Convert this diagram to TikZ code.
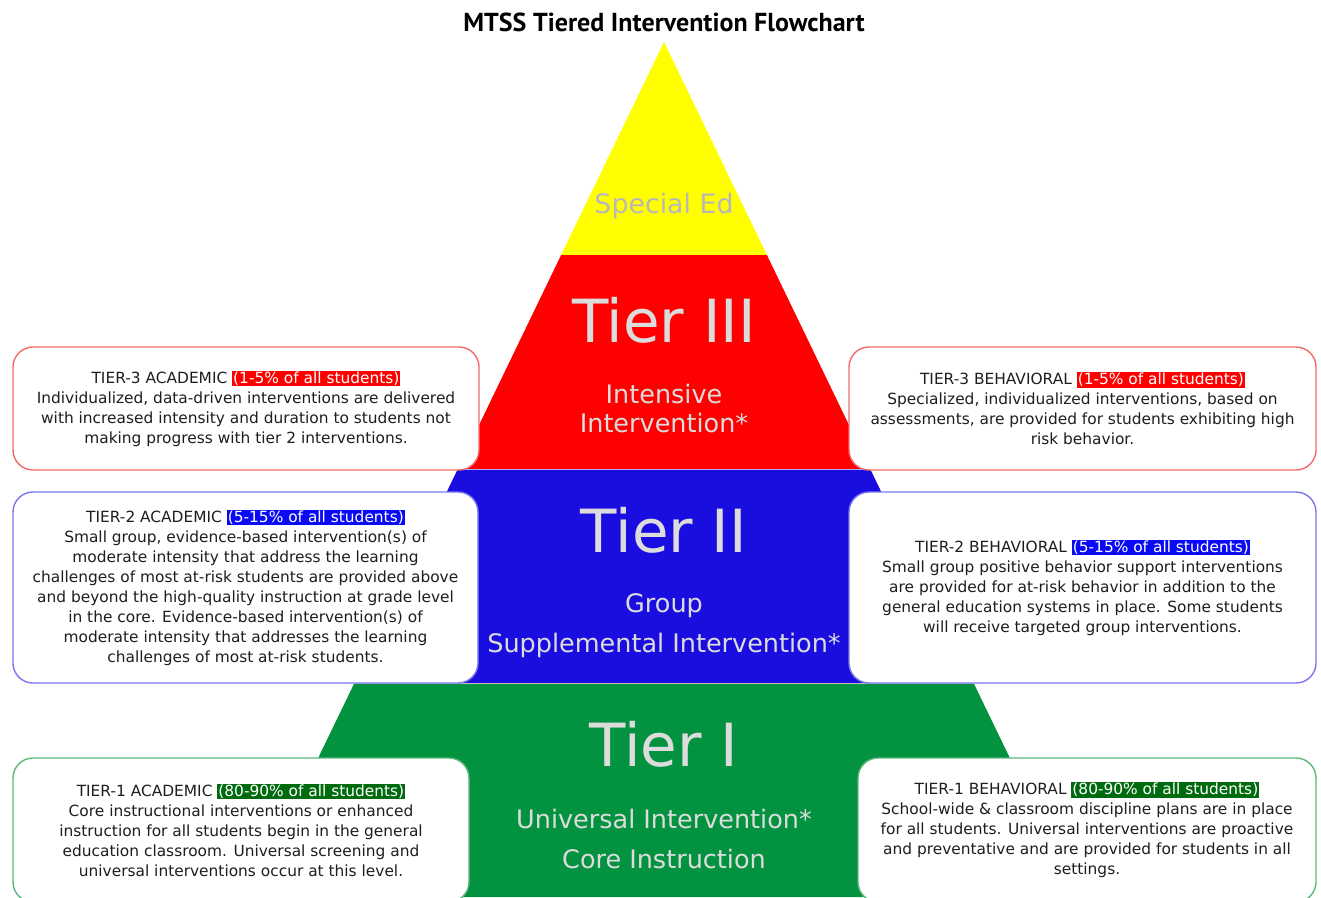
\documentclass[tikz,border=0pt]{standalone}
\usepackage{fontspec}
\setmainfont{DejaVu Sans}
\newfontfamily\titlefont{PT Sans}
\definecolor{ylw}{HTML}{FFFF00}
\definecolor{rd}{HTML}{FF0000}
\definecolor{bl}{HTML}{1A0DE0}
\definecolor{gr}{HTML}{03923F}
\definecolor{rdline}{HTML}{F26A6A}
\definecolor{blline}{HTML}{7A76EE}
\definecolor{grline}{HTML}{5DB87C}
\definecolor{hlred}{HTML}{FF0000}
\definecolor{hlblue}{HTML}{0A0AF5}
\definecolor{hlgreen}{HTML}{006A0E}
\definecolor{boxtxt}{HTML}{1E1E1E}
\definecolor{pyrtxt}{HTML}{DCDCDC}
\definecolor{spedtxt}{HTML}{B8B8B8}
\newcommand{\hlbox}[2]{{\setlength{\fboxsep}{1pt}\colorbox{#1}{\textcolor{white}{#2}}}}
\newcommand{\boxfont}{\fontsize{15.4}{20}\selectfont}
\begin{document}
\begin{tikzpicture}[x=1pt,y=-1pt,
  infobox/.style={draw, line width=1.4pt, rounded corners=20pt, fill=white, align=center,
     font=\boxfont, text=boxtxt, inner sep=0pt},
  pyrbig/.style={text=pyrtxt, anchor=base, inner sep=0pt, font=\fontsize{59.5}{59.5}\selectfont},
  pyrsmall/.style={text=pyrtxt, anchor=base, inner sep=0pt, font=\fontsize{25.5}{25.5}\selectfont},
  sepline/.style={line width=0.8pt}
]
\useasboundingbox (0,0) rectangle (1321,897);
\clip (0,0) rectangle (1321,897);

% title
\node[anchor=base, inner sep=0pt, font=\titlefont\fontsize{26}{26}\selectfont\bfseries, text=black] (title) at (664,31) {MTSS Tiered Intervention Flowchart};

% pyramid bands
\fill[ylw] (664,42) -- (766.9,255) -- (561.1,255) -- cycle;
\fill[rd] (561.1,255) -- (766.9,255) -- (870.2,469) -- (457.8,469) -- cycle;
\fill[bl] (457.8,469) -- (870.2,469) -- (973.6,683) -- (354.4,683) -- cycle;
\fill[gr] (354.4,683) -- (973.6,683) -- (1077,897) -- (251,897) -- cycle;
\draw[sepline, blline!60] (457.8,469.5) -- (870.2,469.5);
\draw[sepline, gray!50] (354.4,683.5) -- (973.6,683.5);

% pyramid texts
\node[anchor=base, inner sep=0pt, text=spedtxt, font=\fontsize{26.8}{26.8}\selectfont] (specialed) at (664,213) {Special Ed};
\node[pyrbig] (tier3) at (664,342) {Tier III};
\node[pyrsmall] (intensive) at (664,403) {Intensive};
\node[pyrsmall] (intensive2) at (664,432) {Intervention*};
\node[pyrbig] (tier2) at (664,552) {Tier II};
\node[pyrsmall] (group) at (664,612) {Group};
\node[pyrsmall] (suppl) at (664,652) {Supplemental Intervention*};
\node[pyrbig] (tier1) at (664,766) {Tier I};
\node[pyrsmall] (universal) at (664,828) {Universal Intervention*};
\node[pyrsmall] (core) at (664,868) {Core Instruction};

% boxes
\node[infobox, draw=rdline, minimum width=466pt, minimum height=123pt] (t3a) at (246,408.5)
 {TIER-3 ACADEMIC \hlbox{hlred}{(1-5\% of all students)}\\
  Individualized, data-driven interventions are delivered\\
  with increased intensity and duration to students not\\
  making progress with tier 2 interventions.};
\node[infobox, draw=rdline, minimum width=467pt, minimum height=123pt] (t3b) at (1082.5,408.5)
 {TIER-3 BEHAVIORAL \hlbox{hlred}{(1-5\% of all students)}\\
  Specialized, individualized interventions, based on\\
  assessments, are provided for students exhibiting high\\
  risk behavior.};
\node[infobox, draw=blline, minimum width=465pt, minimum height=191pt] (t2a) at (245.5,587.5)
 {TIER-2 ACADEMIC \hlbox{hlblue}{(5-15\% of all students)}\\
  Small group, evidence-based intervention(s) of\\
  moderate intensity that address the learning\\
  challenges of most at-risk students are provided above\\
  and beyond the high-quality instruction at grade level\\
  in the core. Evidence-based intervention(s) of\\
  moderate intensity that addresses the learning\\
  challenges of most at-risk students.};
\node[infobox, draw=blline, minimum width=467pt, minimum height=191pt] (t2b) at (1082.5,587.5)
 {TIER-2 BEHAVIORAL \hlbox{hlblue}{(5-15\% of all students)}\\
  Small group positive behavior support interventions\\
  are provided for at-risk behavior in addition to the\\
  general education systems in place. Some students\\
  will receive targeted group interventions.};
\node[infobox, draw=grline, minimum width=456pt, minimum height=144pt] (t1a) at (241,830)
 {TIER-1 ACADEMIC \hlbox{hlgreen}{(80-90\% of all students)}\\
  Core instructional interventions or enhanced\\
  instruction for all students begin in the general\\
  education classroom. Universal screening and\\
  universal interventions occur at this level.};
\node[infobox, draw=grline, minimum width=458pt, minimum height=144pt] (t1b) at (1087,830)
 {TIER-1 BEHAVIORAL \hlbox{hlgreen}{(80-90\% of all students)}\\
  School-wide \& classroom discipline plans are in place\\
  for all students. Universal interventions are proactive\\
  and preventative and are provided for students in all\\
  settings.};
\end{tikzpicture}
\end{document}
